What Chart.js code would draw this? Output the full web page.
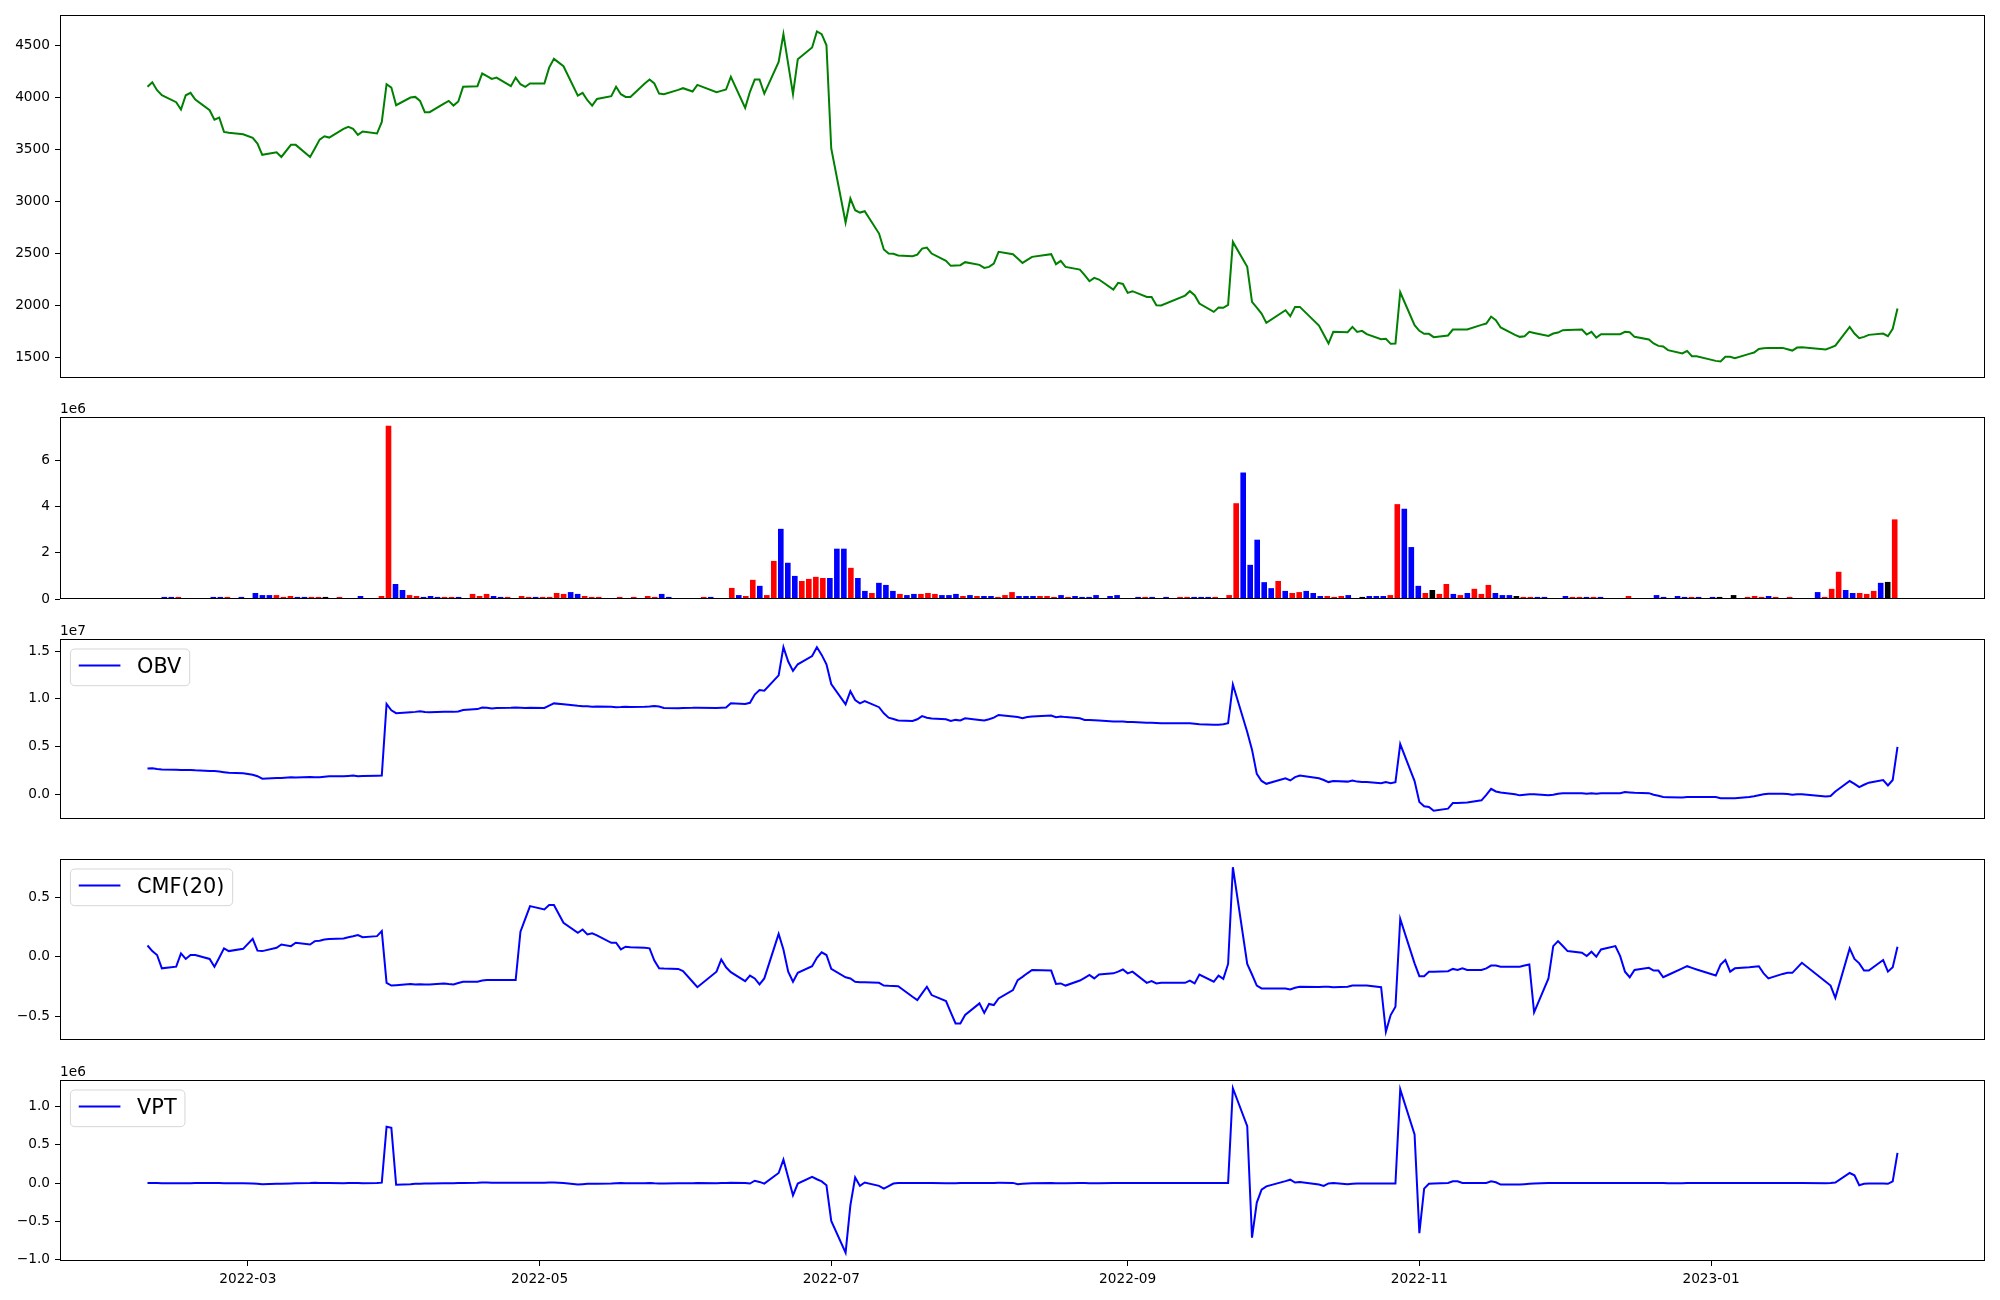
<!DOCTYPE html>
<html>
<head>
<meta charset="utf-8">
<title>Price / Volume / OBV / CMF / VPT</title>
<script src="https://cdn.jsdelivr.net/npm/chart.js@4.4.0/dist/chart.umd.min.js"></script>
<style>
  html, body { margin: 0; padding: 0; background: #fff; }
  #fig { position: relative; width: 2000px; height: 1300px; background: #fff; overflow: hidden; }
  #fig canvas { position: absolute; left: 0; }
</style>
</head>
<body>
<div id="fig"></div>
<script>
// ---- data (KRX trading days, 2022-02-08 .. 2023-02-09) ----
const tradingDays = [
  ['2022-02', [8, 9, 10, 11, 14, 15, 16, 17, 18, 21, 22, 23, 24, 25, 28]],
  ['2022-03', [2, 3, 4, 7, 8, 10, 11, 14, 15, 16, 17, 18, 21, 22, 23, 24, 25, 28, 29, 30, 31]],
  ['2022-04', [1, 4, 5, 6, 7, 8, 11, 12, 13, 14, 15, 18, 19, 20, 21, 22, 25, 26, 27, 28, 29]],
  ['2022-05', [2, 3, 4, 6, 9, 10, 11, 12, 13, 16, 17, 18, 19, 20, 23, 24, 25, 26, 27, 30, 31]],
  ['2022-06', [2, 3, 7, 8, 9, 10, 13, 14, 15, 16, 17, 20, 21, 22, 23, 24, 27, 28, 29, 30]],
  ['2022-07', [1, 4, 5, 6, 7, 8, 11, 12, 13, 14, 15, 18, 19, 20, 21, 22, 25, 26, 27, 28, 29]],
  ['2022-08', [1, 2, 3, 4, 5, 8, 9, 10, 11, 12, 16, 17, 18, 19, 22, 23, 24, 25, 26, 29, 30, 31]],
  ['2022-09', [1, 2, 5, 6, 7, 8, 13, 14, 15, 16, 19, 20, 21, 22, 23, 26, 27, 28, 29, 30]],
  ['2022-10', [4, 5, 6, 7, 11, 12, 13, 14, 17, 18, 19, 20, 21, 24, 25, 26, 27, 28, 31]],
  ['2022-11', [1, 2, 3, 4, 7, 8, 9, 10, 11, 14, 15, 16, 17, 18, 21, 22, 23, 24, 25, 28, 29, 30]],
  ['2022-12', [1, 2, 5, 6, 7, 8, 9, 12, 13, 14, 15, 16, 19, 20, 21, 22, 23, 26, 27, 28, 29]],
  ['2023-01', [2, 3, 4, 5, 6, 9, 10, 11, 12, 13, 16, 17, 18, 19, 20, 25, 26, 27, 30, 31]],
  ['2023-02', [1, 2, 3, 6, 7, 8, 9]],
];

const closePrice = [
  4103, 4147, 4070, 4022, 3955, 3885, 4022, 4045, 3981, 3878, 3788, 3808, 3670, 3662, 3647,
  3612, 3558, 3449, 3474, 3429, 3545, 3545, 3429, 3510, 3596, 3628, 3615, 3699, 3718, 3699, 3641, 3673, 3654, 3766, 4128, 4096,
  3926, 4000, 4006, 3968, 3859, 3859, 3942, 3968, 3923, 3962, 4103, 4109, 4231, 4205, 4179, 4192, 4109, 4192, 4128, 4103, 4135,
  4135, 4288, 4372, 4301, 4019, 4045, 3974, 3923, 3987, 4013, 4103, 4032, 4006, 4006, 4135, 4173, 4135, 4038, 4032, 4074, 4090,
  4058, 4122, 4051, 4064, 4077, 4199, 3901, 4055, 4173, 4173, 4038, 4343, 4609, 4321, 4032, 4369, 4481, 4635, 4609, 4503,
  3510, 2798, 3029, 2917, 2894, 2907, 2692, 2539, 2500, 2497, 2481, 2474, 2490, 2548, 2558, 2500, 2430, 2382, 2385, 2388, 2417,
  2391, 2362, 2372, 2404, 2516, 2494, 2452, 2410, 2439, 2468, 2494, 2398, 2430, 2372, 2346, 2292, 2234, 2266, 2250, 2154, 2218, 2208,
  2122, 2138, 2083, 2083, 2003, 2000, 2096, 2138, 2100, 2019, 1939, 1981, 1978, 2006, 2612, 2372, 2035, 1981, 1923, 1833,
  1955, 1898, 1987, 1987, 1808, 1721, 1635, 1747, 1744, 1795, 1747, 1757, 1725, 1676, 1680, 1632, 1635, 2128, 1811,
  1757, 1728, 1728, 1696, 1712, 1769, 1769, 1769, 1769, 1814, 1827, 1894, 1859, 1789, 1718, 1699, 1705, 1747, 1737, 1708, 1731, 1740,
  1763, 1766, 1769, 1721, 1747, 1692, 1725, 1725, 1725, 1747, 1744, 1699, 1673, 1635, 1612, 1606, 1571, 1539, 1564, 1513, 1513,
  1468, 1462, 1507, 1507, 1494, 1535, 1548, 1583, 1590, 1593, 1593, 1580, 1567, 1596, 1599, 1577, 1596, 1615, 1795, 1731,
  1686, 1699, 1718, 1731, 1705, 1776, 1971,
];

// volume in units of 1e6
const volumeM = [
  0.04, 0.04, 0.09, 0.09, 0.09, 0.04, 0.04, 0.04, 0.04, 0.09, 0.09, 0.09, 0.04, 0.09, 0.04,
  0.26, 0.17, 0.17, 0.17, 0.09, 0.13, 0.09, 0.09, 0.09, 0.09, 0.09, 0.04, 0.09, 0.04, 0.04, 0.13, 0.04, 0.04, 0.13, 7.51, 0.65,
  0.39, 0.17, 0.13, 0.09, 0.13, 0.09, 0.09, 0.09, 0.09, 0.04, 0.22, 0.13, 0.22, 0.13, 0.09, 0.09, 0.04, 0.13, 0.09, 0.09, 0.09,
  0.09, 0.26, 0.22, 0.30, 0.22, 0.13, 0.09, 0.09, 0.04, 0.04, 0.09, 0.04, 0.09, 0.04, 0.13, 0.09, 0.22, 0.09, 0.04, 0.04, 0.04,
  0.04, 0.09, 0.09, 0.04, 0.04, 0.48, 0.17, 0.13, 0.83, 0.57, 0.17, 1.65, 3.04, 1.57, 1.00, 0.78, 0.87, 0.96, 0.91, 0.91,
  2.18, 2.18, 1.35, 0.91, 0.35, 0.26, 0.70, 0.61, 0.35, 0.22, 0.17, 0.22, 0.22, 0.26, 0.22, 0.17, 0.17, 0.22, 0.13, 0.17, 0.13,
  0.13, 0.13, 0.09, 0.17, 0.30, 0.13, 0.13, 0.13, 0.13, 0.13, 0.09, 0.17, 0.09, 0.13, 0.09, 0.09, 0.17, 0.04, 0.13, 0.17, 0.04, 0.04,
  0.09, 0.09, 0.09, 0.04, 0.09, 0.04, 0.09, 0.09, 0.09, 0.09, 0.09, 0.09, 0.04, 0.17, 4.15, 5.48, 1.48, 2.57, 0.73, 0.47,
  0.78, 0.35, 0.26, 0.30, 0.35, 0.26, 0.13, 0.13, 0.09, 0.13, 0.17, 0.04, 0.09, 0.13, 0.13, 0.13, 0.17, 4.11, 3.91,
  2.25, 0.57, 0.26, 0.39, 0.22, 0.65, 0.22, 0.17, 0.26, 0.44, 0.22, 0.61, 0.26, 0.17, 0.17, 0.13, 0.09, 0.09, 0.09, 0.09, 0.04, 0.04,
  0.13, 0.09, 0.09, 0.09, 0.09, 0.09, 0.04, 0.04, 0.04, 0.13, 0.04, 0.04, 0.04, 0.17, 0.09, 0.04, 0.13, 0.09, 0.09, 0.09, 0.04,
  0.09, 0.09, 0.04, 0.17, 0.04, 0.09, 0.13, 0.09, 0.13, 0.09, 0.04, 0.09, 0.04, 0.04, 0.04, 0.30, 0.09, 0.44, 1.18, 0.39,
  0.26, 0.26, 0.22, 0.35, 0.70, 0.74, 3.45,
];

// candle direction of each day: 1 up, -1 down, 0 unchanged
const candleDir = [
  0, 1, -1, -1, 1, -1, 1, 1, 1, -1, -1, 1, -1, -1, -1,
  -1, -1, -1, 1, 1, 1, -1, -1, 1, 1, 0, -1, 1, 1, -1, -1, 1, -1, 1, 1, -1,
  -1, 1, 1, -1, -1, -1, 1, 1, -1, 1, 1, 1, 1, -1, -1, 1, -1, 1, 1, -1, 1,
  1, 1, 1, -1, -1, 1, 1, 1, 1, 1, 1, -1, 1, 0, 1, 1, -1, -1, -1, 0, 1,
  -1, 1, -1, 1, -1, 1, -1, 1, 1, -1, 1, 1, -1, -1, -1, 1, 1, 1, 1, -1,
  -1, -1, 1, -1, -1, 1, -1, -1, -1, 1, -1, -1, 1, 1, 1, -1, -1, -1, 1, -1, 1,
  -1, -1, 1, 1, 1, -1, -1, -1, 1, 1, 1, -1, 1, -1, -1, -1, -1, 1, -1, -1, 1, -1,
  -1, 1, -1, 0, -1, -1, 1, 1, -1, -1, -1, 1, -1, 1, 1, -1, -1, -1, -1, -1,
  1, -1, 1, 1, -1, -1, -1, 1, 1, 1, -1, 1, 0, -1, -1, -1, 1, 1, -1,
  -1, -1, 1, 0, 1, 1, -1, 1, -1, 1, 1, 1, -1, -1, -1, 0, 1, 1, -1, -1, 1, -1,
  -1, 1, 1, -1, 1, -1, 1, 1, -1, 1, -1, 0, -1, -1, -1, -1, -1, -1, 1, -1, -1,
  -1, 0, 1, 0, -1, 1, 1, 1, -1, 1, 0, 1, -1, 1, 1, -1, 1, 1, 1, -1,
  -1, 1, 1, 1, -1, 0, 1,
];

// OBV in units of 1e7
const obvE7 = [
  0.27, 0.272, 0.265, 0.26, 0.258, 0.255, 0.254, 0.256, 0.252, 0.245, 0.244, 0.238, 0.232, 0.225, 0.22,
  0.205, 0.19, 0.164, 0.17, 0.172, 0.178, 0.175, 0.182, 0.18, 0.18, 0.185, 0.19, 0.19, 0.193, 0.197, 0.19, 0.192, 0.195, 0.197, 0.947, 0.88,
  0.85, 0.86, 0.864, 0.87, 0.862, 0.86, 0.864, 0.866, 0.864, 0.868, 0.884, 0.893, 0.91, 0.906, 0.9, 0.905, 0.906, 0.91, 0.907, 0.905, 0.906,
  0.905, 0.93, 0.953, 0.945, 0.928, 0.924, 0.922, 0.918, 0.92, 0.918, 0.912, 0.914, 0.918, 0.916, 0.918, 0.92, 0.925, 0.92, 0.905, 0.903, 0.905,
  0.906, 0.908, 0.905, 0.907, 0.91, 0.955, 0.947, 0.959, 1.046, 1.092, 1.086, 1.247, 1.542, 1.392, 1.294, 1.363, 1.449, 1.542, 1.461, 1.363,
  1.155, 0.942, 1.08, 0.988, 0.953, 0.976, 0.913, 0.849, 0.803, 0.79, 0.774, 0.768, 0.786, 0.82, 0.803, 0.795, 0.786, 0.768, 0.78, 0.774, 0.797,
  0.78, 0.774, 0.786, 0.803, 0.832, 0.815, 0.81, 0.797, 0.81, 0.815, 0.826, 0.809, 0.815, 0.809, 0.797, 0.78, 0.78, 0.777, 0.774, 0.763, 0.763, 0.763,
  0.757, 0.757, 0.751, 0.75, 0.748, 0.745, 0.745, 0.745, 0.74, 0.734, 0.728, 0.73, 0.734, 0.745, 1.15, 0.653, 0.468, 0.214, 0.14, 0.11,
  0.168, 0.145, 0.18, 0.197, 0.168, 0.15, 0.128, 0.139, 0.133, 0.145, 0.133, 0.13, 0.128, 0.116, 0.128, 0.116, 0.128, 0.526, 0.139,
  -0.08, -0.126, -0.132, -0.173, -0.15, -0.092, -0.09, -0.088, -0.086, -0.063, -0.005, 0.058, 0.03, 0.018, 0.0, -0.011, -0.005, 0.0, 0.0, -0.011, -0.005, 0.006,
  0.01, 0.01, 0.012, 0.006, 0.012, 0.006, 0.01, 0.012, 0.012, 0.024, 0.02, 0.016, 0.012, -0.005, -0.015, -0.028, -0.03, -0.034, -0.028, -0.028, -0.028,
  -0.028, -0.04, -0.04, -0.04, -0.04, -0.028, -0.02, -0.01, 0.0, 0.006, 0.006, 0.003, -0.005, 0.0, 0.0, -0.023, -0.017, 0.03, 0.139, 0.11,
  0.076, 0.1, 0.122, 0.15, 0.093, 0.15, 0.497,
];

const cmf20 = [
  0.094, 0.047, 0.014, -0.098, -0.084, 0.028, -0.019, 0.014, 0.014, -0.019, -0.084, -0.009, 0.07, 0.047, 0.066,
  0.15, 0.051, 0.047, 0.075, 0.103, 0.089, 0.117, 0.103, 0.131, 0.135, 0.145, 0.148, 0.154, 0.164, 0.172, 0.182, 0.164, 0.173, 0.215, -0.22, -0.243,
  -0.24, -0.229, -0.234, -0.232, -0.234, -0.234, -0.225, -0.23, -0.234, -0.222, -0.211, -0.211, -0.2, -0.197, -0.197, -0.197, -0.197, -0.197, 0.21, 0.318, 0.426,
  0.398, 0.435, 0.435, 0.285, 0.201, 0.229, 0.187, 0.197, 0.18, 0.117, 0.117, 0.061, 0.084, 0.08, 0.075, 0.07, -0.033, -0.098, -0.1, -0.103, -0.122,
  -0.211, -0.257, -0.126, -0.023, -0.089, -0.13, -0.206, -0.159, -0.183, -0.234, -0.183, 0.192, 0.061, -0.126, -0.211, -0.136, -0.08, -0.009, 0.037, 0.014,
  -0.103, -0.173, -0.183, -0.211, -0.215, -0.215, -0.22, -0.243, -0.245, -0.246, -0.248, -0.337, -0.365, -0.309, -0.253, -0.323, -0.374, -0.468, -0.562, -0.562, -0.491,
  -0.393, -0.473, -0.398, -0.407, -0.351, -0.281, -0.197, -0.17, -0.14, -0.112, -0.117, -0.229, -0.225, -0.243, -0.201, -0.178, -0.154, -0.183, -0.15, -0.14, -0.126, -0.108,
  -0.14, -0.126, -0.22, -0.206, -0.225, -0.22, -0.22, -0.201, -0.225, -0.15, -0.211, -0.159, -0.187, -0.061, 0.753, -0.061, -0.15, -0.243, -0.267, -0.267,
  -0.267, -0.276, -0.262, -0.253, -0.255, -0.253, -0.253, -0.257, -0.253, -0.243, -0.243, -0.243, -0.243, -0.257, -0.632, -0.491, -0.421, 0.318, -0.056,
  -0.164, -0.164, -0.126, -0.126, -0.122, -0.103, -0.112, -0.098, -0.112, -0.112, -0.098, -0.075, -0.075, -0.084, -0.084, -0.084, -0.075, -0.066, -0.468, -0.183, 0.089, 0.131,
  0.09, 0.047, 0.033, 0.005, 0.042, 0.0, 0.061, 0.089, 0.005, -0.126, -0.173, -0.112, -0.094, -0.117, -0.117, -0.173, -0.154, -0.098, -0.08, -0.094, -0.108,
  -0.159, -0.066, -0.028, -0.126, -0.098, -0.089, -0.084, -0.08, -0.14, -0.183, -0.145, -0.136, -0.136, -0.094, -0.051, -0.211, -0.243, -0.346, 0.07, -0.019,
  -0.056, -0.117, -0.117, -0.028, -0.126, -0.089, 0.084,
];

// VPT in units of 1e6
const vptM = [
  0, 0, 0, -0.003, -0.003, -0.003, -0.002, -0.002, 0, 0.002, 0, 0, -0.003, -0.002, -0.002,
  -0.005, -0.01, -0.015, -0.01, -0.008, -0.005, -0.003, 0, 0.003, 0.002, 0, 0, -0.002, 0, 0.002, 0, -0.003, 0, 0.005, 0.738, 0.724,
  -0.022, -0.015, -0.01, -0.008, -0.006, -0.005, -0.003, -0.003, -0.002, 0, 0, 0.003, 0.008, 0.006, 0.005, 0.005, 0.004, 0.004, 0.003, 0.003, 0.003,
  0.003, 0.008, 0.007, 0.002, -0.02, -0.015, -0.01, -0.01, -0.008, -0.006, -0.003, 0, -0.002, -0.003, -0.002, 0, -0.004, -0.006, -0.005, -0.004, -0.003,
  -0.003, 0, -0.002, 0, 0.002, 0.003, 0, -0.007, 0.03, 0.015, -0.007, 0.132, 0.307, 0.073, -0.161, -0.007, 0.08, 0.05, 0.022, -0.029,
  -0.497, -0.914, -0.292, 0.073, -0.037, 0.007, -0.037, -0.073, -0.04, -0.007, 0, 0, 0, 0.002, 0.002, 0, -0.002, -0.003, -0.002, 0, 0,
  0, 0, 0, 0.002, 0.003, 0.002, -0.015, -0.008, -0.005, -0.003, 0, -0.003, -0.002, -0.002, 0, 0, -0.002, -0.002, -0.002, 0, 0, 0,
  0, 0, 0, 0, 0, 0, 0, 0, 0, 0, 0, 0, 0, 0, 1.243, 0.746, -0.716, -0.256, -0.088, -0.044,
  0.025, 0.044, 0.007, 0.015, -0.02, -0.037, -0.005, 0, -0.015, -0.01, -0.005, -0.005, -0.005, -0.005, -0.005, -0.007, -0.007, 1.228, 0.636,
  -0.658, -0.073, -0.01, -0.005, 0, 0.022, 0.022, 0, 0, 0, 0, 0.022, 0.01, -0.02, -0.02, -0.02, -0.015, -0.01, -0.005, 0, 0, 0,
  0, 0, 0.002, 0.002, 0, 0, 0, 0, 0, 0.002, 0.002, 0, 0, 0, 0, 0, -0.002, -0.002, 0, 0, 0,
  0, 0, 0, 0, 0, 0, 0, 0, 0, 0, 0, 0, 0, 0, 0, -0.003, 0, 0.007, 0.132, 0.102,
  -0.029, -0.01, -0.005, -0.005, -0.01, 0.022, 0.395,
];

const priceTicks = [1500, 2000, 2500, 3000, 3500, 4000, 4500];
const volumeTicks = [0, 2, 4, 6];
const obvTicks = [0.0, 0.5, 1.0, 1.5];
const cmfTicks = [-0.5, 0.0, 0.5];
const vptTicks = [-1.0, -0.5, 0.0, 0.5, 1.0];
const xTickLabels = ['2022-03', '2022-05', '2022-07', '2022-09', '2022-11', '2023-01'];

// ---- helpers ----
const DAY = 86400000;
const EPOCH = Date.UTC(2022, 0, 1);
function dayNum(iso) {
  const [y, m, d] = iso.split('-').map(Number);
  return (Date.UTC(y, m - 1, d || 1) - EPOCH) / DAY;
}
const dates = tradingDays.flatMap(([ym, days]) => days.map(d => ym + '-' + String(d).padStart(2, '0')));
const dayX = dates.map(dayNum);
const xTickValues = xTickLabels.map(dayNum);

// matplotlib-like 5% autoscale margins
function autoLimits(values, margin = 0.05) {
  const lo = Math.min(...values), hi = Math.max(...values);
  const pad = (hi - lo) * margin;
  return [lo - pad, hi + pad];
}
const [xMin, xMax] = autoLimits(dayX);
const [barMin, barMax] = autoLimits([-0.4, volumeM.length - 1 + 0.4]);

const TICK_FONT = { family: 'DejaVu Sans', size: 13.7 };
const LEGEND_SIZE = 20.83;
const PAD_TOP = 22;
const PAD_BOTTOM = 20;
const minus = s => s.replace('-', '\u2212');

Chart.defaults.font.family = 'DejaVu Sans';
Chart.defaults.color = '#000';

function yAxis(limits, ticks, fmt) {
  return {
    type: 'linear',
    min: limits[0],
    max: limits[1],
    bounds: 'data',
    afterBuildTicks: s => { s.ticks = ticks.map(v => ({ value: v })); },
    afterFit: s => { s.width = 60; },
    ticks: { color: '#000', font: TICK_FONT, padding: 5, callback: fmt },
    grid: { display: true, drawOnChartArea: false, drawTicks: true, tickLength: 5, color: '#000', lineWidth: 1 },
    border: { display: false },
  };
}

function hiddenX(min, max) {
  return { type: 'linear', min, max, display: false, offset: false };
}

// axes frame, offset text ("1e6") and the boxed legend
function decorations(opts) {
  return {
    id: 'decorations',
    afterDatasetsDraw(chart) {
      const { ctx, chartArea: a } = chart;
      ctx.save();
      ctx.strokeStyle = '#000';
      ctx.lineWidth = 1;
      const l = Math.round(a.left) + 0.5, t = Math.round(a.top) + 0.5;
      const r = Math.round(a.right) - 0.5, b = Math.round(a.bottom) - 0.5;
      ctx.strokeRect(l, t, r - l, b - t);

      if (opts.offset) {
        ctx.fillStyle = '#000';
        ctx.font = TICK_FONT.size + 'px "DejaVu Sans"';
        ctx.textAlign = 'left';
        ctx.textBaseline = 'alphabetic';
        ctx.fillText(opts.offset, a.left, a.top - 4.5);
      }

      if (opts.legend) {
        const F = LEGEND_SIZE;
        ctx.font = F + 'px "DejaVu Sans"';
        const tw = ctx.measureText(opts.legend).width;
        const bx = a.left + 0.5 * F, by = a.top + 0.48 * F;
        const bw = 3.6 * F + tw, bh = 1.76 * F, rad = 0.2 * F;
        ctx.beginPath();
        ctx.moveTo(bx + rad, by);
        ctx.lineTo(bx + bw - rad, by);
        ctx.arcTo(bx + bw, by, bx + bw, by + rad, rad);
        ctx.lineTo(bx + bw, by + bh - rad);
        ctx.arcTo(bx + bw, by + bh, bx + bw - rad, by + bh, rad);
        ctx.lineTo(bx + rad, by + bh);
        ctx.arcTo(bx, by + bh, bx, by + bh - rad, rad);
        ctx.lineTo(bx, by + rad);
        ctx.arcTo(bx, by, bx + rad, by, rad);
        ctx.closePath();
        ctx.fillStyle = 'rgba(255,255,255,0.8)';
        ctx.fill();
        ctx.strokeStyle = 'rgba(204,204,204,0.8)';
        ctx.lineWidth = 1;
        ctx.stroke();

        const ly = by + 0.79 * F;
        ctx.beginPath();
        ctx.moveTo(bx + 0.4 * F, ly);
        ctx.lineTo(bx + 2.4 * F, ly);
        ctx.strokeStyle = opts.color;
        ctx.lineWidth = 2;
        ctx.stroke();

        ctx.fillStyle = '#000';
        ctx.textAlign = 'left';
        ctx.textBaseline = 'alphabetic';
        ctx.fillText(opts.legend, bx + 3.2 * F, by + 1.17 * F);
      }
      ctx.restore();
    },
  };
}

const fig = document.getElementById('fig');
function makeCanvas(top, bottom, extraBottom) {
  const c = document.createElement('canvas');
  c.width = 2000;
  c.height = bottom - top + PAD_TOP + extraBottom;
  c.style.top = (top - PAD_TOP) + 'px';
  c.style.width = '2000px';
  c.style.height = c.height + 'px';
  fig.appendChild(c);
  return c.getContext('2d');
}

const baseOptions = (extraBottom) => ({
  responsive: false,
  animation: false,
  events: [],
  layout: { autoPadding: false, padding: { top: PAD_TOP, right: 15, bottom: extraBottom, left: 0 } },
  plugins: { legend: { display: false }, tooltip: { enabled: false } },
});

function lineDataset(values, color) {
  return {
    data: values.map((v, i) => ({ x: dayX[i], y: v })),
    borderColor: color,
    borderWidth: 2,
    pointRadius: 0,
    tension: 0,
    fill: false,
  };
}

// Price
new Chart(makeCanvas(15, 378, PAD_BOTTOM), {
  type: 'line',
  data: { datasets: [lineDataset(closePrice, '#008000')] },
  options: {
    ...baseOptions(PAD_BOTTOM),
    scales: { x: hiddenX(xMin, xMax), y: yAxis(autoLimits(closePrice), priceTicks, v => String(v)) },
  },
  plugins: [decorations({})],
});

// Volume bars (plotted by bar index)
const dirColor = { '1': '#ff0000', '-1': '#0000ff', '0': '#000000' };
new Chart(makeCanvas(417, 599, PAD_BOTTOM), {
  type: 'bar',
  data: {
    datasets: [{
      data: volumeM.map((v, i) => ({ x: i, y: v })),
      backgroundColor: candleDir.map(d => dirColor[String(d)]),
      borderWidth: 0,
      barPercentage: 0.8,
      categoryPercentage: 1.0,
    }],
  },
  options: {
    ...baseOptions(PAD_BOTTOM),
    scales: {
      x: hiddenX(barMin, barMax),
      y: yAxis([0, Math.max(...volumeM) * 1.05], volumeTicks, v => String(v)),
    },
  },
  plugins: [decorations({ offset: '1e6' })],
});

// OBV
new Chart(makeCanvas(639, 819, PAD_BOTTOM), {
  type: 'line',
  data: { datasets: [lineDataset(obvE7, '#0000ff')] },
  options: {
    ...baseOptions(PAD_BOTTOM),
    scales: { x: hiddenX(xMin, xMax), y: yAxis(autoLimits(obvE7), obvTicks, v => minus(v.toFixed(1))) },
  },
  plugins: [decorations({ offset: '1e7', legend: 'OBV', color: '#0000ff' })],
});

// CMF(20)
new Chart(makeCanvas(859, 1040, PAD_BOTTOM), {
  type: 'line',
  data: { datasets: [lineDataset(cmf20, '#0000ff')] },
  options: {
    ...baseOptions(PAD_BOTTOM),
    scales: { x: hiddenX(xMin, xMax), y: yAxis(autoLimits(cmf20), cmfTicks, v => minus(v.toFixed(1))) },
  },
  plugins: [decorations({ legend: 'CMF(20)', color: '#0000ff' })],
});

// VPT with the date axis
new Chart(makeCanvas(1080, 1261, 36), {
  type: 'line',
  data: { datasets: [lineDataset(vptM, '#0000ff')] },
  options: {
    ...baseOptions(0),
    scales: {
      x: {
        type: 'linear',
        min: xMin,
        max: xMax,
        offset: false,
        afterBuildTicks: s => { s.ticks = xTickValues.map(v => ({ value: v })); },
        afterFit: s => { s.height = 36; },
        ticks: {
          color: '#000', font: TICK_FONT, padding: 5, autoSkip: false, maxRotation: 0,
          callback: v => xTickLabels[xTickValues.indexOf(v)],
        },
        grid: { display: true, drawOnChartArea: false, drawTicks: true, tickLength: 5, color: '#000', lineWidth: 1 },
        border: { display: false },
      },
      y: yAxis(autoLimits(vptM), vptTicks, v => minus(v.toFixed(1))),
    },
  },
  plugins: [decorations({ offset: '1e6', legend: 'VPT', color: '#0000ff' })],
});
</script>
</body>
</html>
